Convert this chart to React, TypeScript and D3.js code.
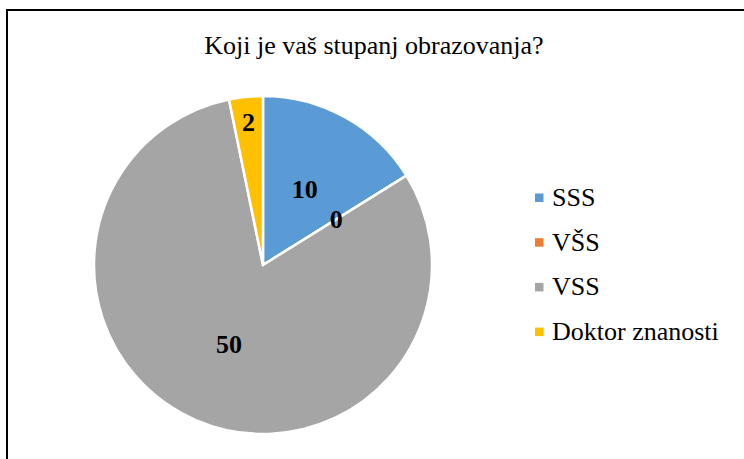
import React from "react";
import * as d3 from "d3";

const categories = ["SSS", "VŠS", "VSS", "Doktor znanosti"];
const values = [10, 0, 50, 2];
const colors = ["#5B9BD5", "#ED7D31", "#A5A5A5", "#FFC000"];
const title = "Koji je vaš stupanj obrazovanja?";

const serif = { fontFamily: "'Liberation Serif', 'Times New Roman', Tinos, serif" };

export default function App() {
  const W = 744, H = 459;
  const cx = 263, cy = 265, R = 169;
  const data = categories.map((c, i) => ({ c, v: values[i], color: colors[i] }));
  const pie = d3.pie<any>().value((d) => d.v).sort(null);
  const arcs = pie(data);
  const arc = d3.arc<any>().innerRadius(0).outerRadius(R);

  return (
    <svg width={W} height={H} style={{ position: "absolute", left: 0, top: 0, ...serif }}>
      <rect x={0} y={0} width={W} height={H} fill="#fff" />
      <rect x={7} y={10} width={800} height={600} fill="#fff" stroke="#000" strokeWidth={2} />
      <text x={374} y={54} textAnchor="middle" style={serif} fontSize={26} fill="#000">
        {title}
      </text>
      <g transform={`translate(${cx},${cy})`}>
        {arcs.map((a, i) => (
          <path key={i} d={arc(a) || ""} fill={a.data.color} stroke="#fff" strokeWidth={2.5} strokeLinejoin="miter" />
        ))}
        {arcs.map((a, i) => {
          const span = a.endAngle - a.startAngle;
          const mid = (a.startAngle + a.endAngle) / 2;
          const r = span > 0 && span < 0.4 ? R * 0.85 : R * 0.51;
          const x = Math.sin(mid) * r;
          const y = -Math.cos(mid) * r;
          return (
            <text key={"l" + i} x={x} y={y} dy="0.34em" textAnchor="middle" style={serif}
              fontWeight="bold" fontSize={26} fill="#000">
              {a.data.v}
            </text>
          );
        })}
      </g>
      {data.map((d, i) => {
        const base = 206 + i * 44.7;
        return (
          <g key={"lg" + i}>
            <rect x={535} y={base - 12.5} width={8.5} height={8.5} fill={d.color} />
            <text x={552} y={base} style={serif} fontSize={26} fill="#000">
              {d.c}
            </text>
          </g>
        );
      })}
    </svg>
  );
}
